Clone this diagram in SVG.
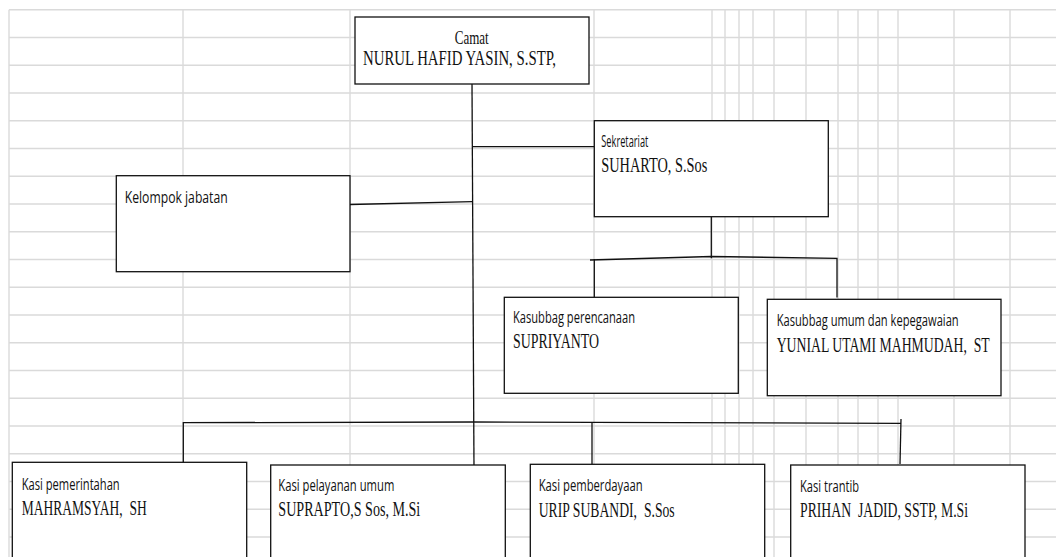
<svg xmlns="http://www.w3.org/2000/svg" width="1056" height="557" viewBox="0 0 1056 557">
<style>
.g{stroke:#dadada;stroke-width:1.4;fill:none}
.box{fill:#ffffff;stroke:#111111;stroke-width:1.3}
.c{stroke:#111111;stroke-width:1.3;fill:none}
.s{font-family:"Open Sans","Liberation Sans",sans-serif;font-size:17px;fill:#111111;white-space:pre}
.r{font-family:"Liberation Serif","Times New Roman",serif;font-size:21px;fill:#111111;white-space:pre}
</style>
<rect x="0" y="0" width="1056" height="557" fill="#ffffff"/>
<g id="grid" class="g">
<path d="M9 9.7H1056M9 37.45H1056M9 65.2H1056M9 92.95H1056M9 120.7H1056M9 148.45H1056M9 176.2H1056M9 203.95H1056M9 231.7H1056M9 259.45H1056M9 287.2H1056M9 314.95H1056M9 342.7H1056M9 370.45H1056M9 398.2H1056M9 425.95H1056M9 453.7H1056M9 481.45H1056M9 509.2H1056M9 536.95H1056"/>
<path d="M9 9.7V557M183 9.7V557M350 9.7V557M594 9.7V557M712 9.7V557M725 9.7V557M739 9.7V557M753 9.7V557M774 9.7V557M806 9.7V557M838 9.7V557M858 9.7V557M878 9.7V557M898 9.7V557M954 9.7V557M1010 9.7V557"/>
</g>
<g id="connectors" class="c">
<path d="M472 84L474 469"/>
<path d="M472.5 146.7H594"/>
<path d="M350 204.5L472.5 201.7"/>
<path d="M711.3 216.7V258.3"/>
<path d="M590 260L711.3 256.5L837 258.3V297.5"/>
<path d="M594.3 259V297"/>
<path d="M183.3 465V422.7L474 422L901 423.3"/>
<path d="M901 419L900 464"/>
<path d="M592 422.3V464.3"/>
</g>
<g id="camat">
<rect class="box" x="355" y="17" width="234" height="67"/>
<text class="r" x="454.7" y="43.6" style="font-size:19px" textLength="34" lengthAdjust="spacingAndGlyphs">Camat</text>
<text class="r" x="363" y="65.2" style="font-size:20px" textLength="193" lengthAdjust="spacingAndGlyphs">NURUL HAFID YASIN, S.STP,</text>
</g>
<g id="sekretariat">
<rect class="box" x="594.3" y="120.7" width="234" height="96"/>
<text class="s" x="601.3" y="146.7" textLength="47" lengthAdjust="spacingAndGlyphs">Sekretariat</text>
<text class="r" x="601.3" y="171.7" textLength="106" lengthAdjust="spacingAndGlyphs">SUHARTO, S.Sos</text>
</g>
<g id="kelompok-jabatan">
<rect class="box" x="116.3" y="175.7" width="233.7" height="96"/>
<text class="s" x="124.7" y="203.3" textLength="103" lengthAdjust="spacingAndGlyphs">Kelompok jabatan</text>
</g>
<g id="kasubbag-perencanaan">
<rect class="box" x="504.3" y="297.3" width="234" height="96"/>
<text class="s" x="513" y="322.7" textLength="122" lengthAdjust="spacingAndGlyphs">Kasubbag perencanaan</text>
<text class="r" x="513" y="348.3" textLength="86" lengthAdjust="spacingAndGlyphs">SUPRIYANTO</text>
</g>
<g id="kasubbag-umum">
<rect class="box" x="767.3" y="299.3" width="233.7" height="96.4"/>
<text class="s" x="776.7" y="326" textLength="182" lengthAdjust="spacingAndGlyphs">Kasubbag umum dan kepegawaian</text>
<text class="r" transform="translate(776.7 351.7) scale(0.649 1)" x="0" y="0" textLength="328.2" lengthAdjust="spacingAndGlyphs">YUNIAL UTAMI MAHMUDAH,  ST</text>
</g>
<g id="kasi-pemerintahan">
<rect class="box" x="12.3" y="462.3" width="234.4" height="110"/>
<text class="s" x="21.7" y="490" textLength="98" lengthAdjust="spacingAndGlyphs">Kasi pemerintahan</text>
<text class="r" x="21.7" y="515" textLength="125" lengthAdjust="spacingAndGlyphs">MAHRAMSYAH,  SH</text>
</g>
<g id="kasi-pelayanan-umum">
<rect class="box" x="270.7" y="465" width="234.6" height="110"/>
<text class="s" x="278.3" y="490.5" textLength="116" lengthAdjust="spacingAndGlyphs">Kasi pelayanan umum</text>
<text class="r" x="278.3" y="516" textLength="142" lengthAdjust="spacingAndGlyphs">SUPRAPTO,S Sos, M.Si</text>
</g>
<g id="kasi-pemberdayaan">
<rect class="box" x="530.3" y="464.3" width="234.4" height="110"/>
<text class="s" x="538.7" y="491" textLength="104" lengthAdjust="spacingAndGlyphs">Kasi pemberdayaan</text>
<text class="r" x="538.7" y="516.7" textLength="136" lengthAdjust="spacingAndGlyphs">URIP SUBANDI,  S.Sos</text>
</g>
<g id="kasi-trantib">
<rect class="box" x="790.7" y="465" width="234.3" height="110"/>
<text class="s" x="800" y="491.7" textLength="59" lengthAdjust="spacingAndGlyphs">Kasi trantib</text>
<text class="r" x="800" y="516.7" textLength="168" lengthAdjust="spacingAndGlyphs">PRIHAN  JADID, SSTP, M.Si</text>
</g>
</svg>
